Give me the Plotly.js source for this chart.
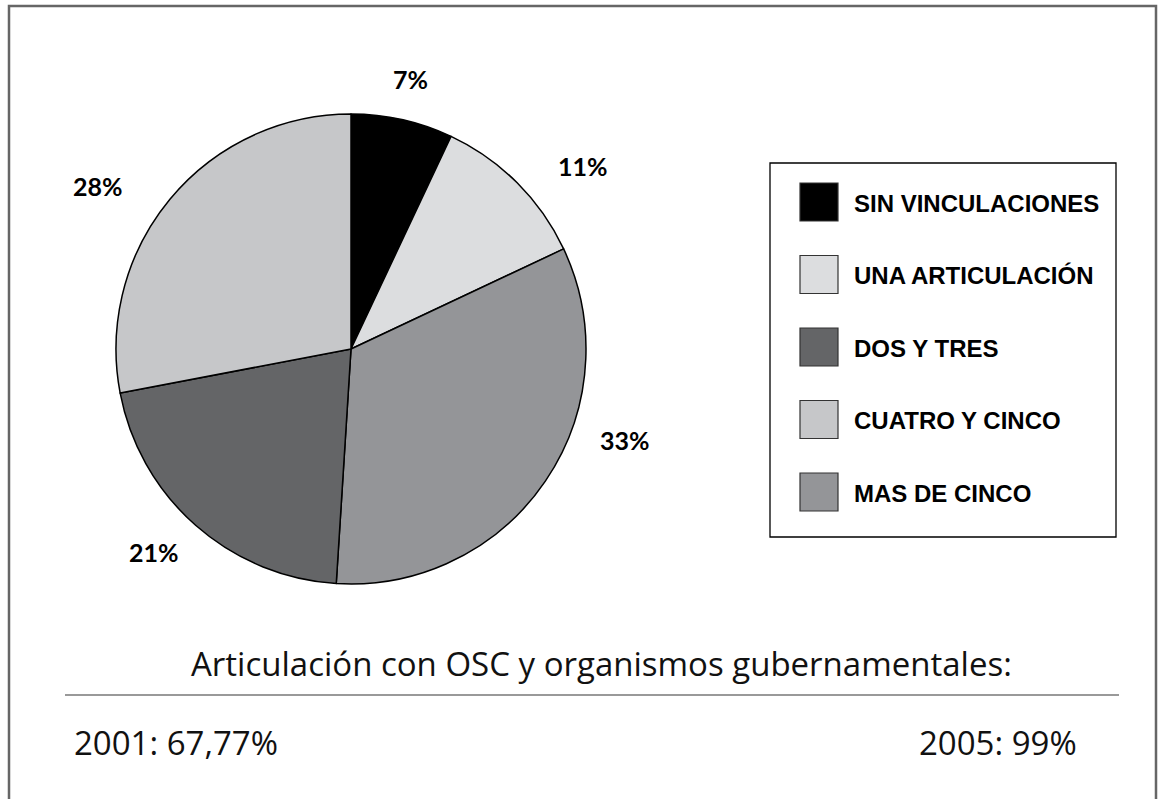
<!DOCTYPE html>
<html>
<head>
<meta charset="utf-8">
<script src="https://cdn.plot.ly/plotly-3.0.1.min.js"></script>
<style>html,body{margin:0;padding:0;background:#fff}#chart{width:1158px;height:799px}</style>
</head>
<body>
<div id="chart"></div>
<script>
// ---- data (legend order) ----
const categories = ["SIN VINCULACIONES", "UNA ARTICULACIÓN", "DOS Y TRES", "CUATRO Y CINCO", "MAS DE CINCO"];
const values = [7, 11, 21, 28, 33];
const colors = ["#000000", "#dcdddf", "#646567", "#c6c7c9", "#949598"];
const sliceOrder = [0, 1, 4, 2, 3]; // clockwise from 12 o'clock
const subtitle = "Articulación con OSC y organismos gubernamentales:";
const yearLabels = ["2001: 67,77%", "2005: 99%"];

const sliceLabels = sliceOrder.map(i => categories[i]);
const sliceValues = sliceOrder.map(i => values[i]);
const sliceColors = sliceOrder.map(i => colors[i]);

// ---- layout helpers (pixel -> paper) ----
const W = 1158, H = 799;
const px = x => x / W;
const py = y => 1 - y / H;

const labelPos = [[410, 79], [583, 166], [625, 440], [154, 552], [98, 186]];

const annotations = [];
const shapes = [];

sliceValues.forEach((v, i) => {
  annotations.push({
    xref: "paper", yref: "paper", x: px(labelPos[i][0]), y: py(labelPos[i][1]),
    text: "<b>" + v + "%</b>", showarrow: false, xanchor: "center", yanchor: "middle",
    font: {family: "Lato, 'Open Sans', sans-serif", size: 25, color: "#000"}
  });
});

// legend box
shapes.push({type: "rect", xref: "paper", yref: "paper",
  x0: px(770), x1: px(1116), y0: py(537), y1: py(163),
  line: {color: "#000", width: 1.3}, fillcolor: "rgba(0,0,0,0)"});
categories.forEach((name, i) => {
  const cy = 202 + i * 72.5;
  shapes.push({type: "rect", xref: "paper", yref: "paper",
    x0: px(800), x1: px(838), y0: py(cy + 19), y1: py(cy - 19),
    line: {color: "#333", width: 1.2}, fillcolor: colors[i]});
  annotations.push({xref: "paper", yref: "paper", x: px(852), y: py(cy + 1),
    text: "<b>" + name + "</b>", showarrow: false, xanchor: "left", yanchor: "middle",
    font: {family: "'Liberation Sans Narrow', 'Arial Narrow', 'Liberation Sans', sans-serif", size: 24, color: "#000"}});
});

// outer frame (left, top, right)
shapes.push({type: "path", xref: "paper", yref: "paper",
  path: `M ${px(9)} 0 L ${px(9)} ${py(6)} L ${px(1156)} ${py(6)} L ${px(1156)} 0`,
  line: {color: "#666", width: 2.5}});

// subtitle + rule + years
const txtFont = {family: "'Open Sans', sans-serif", size: 33, color: "#111"};
annotations.push({xref: "paper", yref: "paper", x: px(601), y: py(663), text: subtitle,
  showarrow: false, xanchor: "center", yanchor: "middle", font: txtFont});
shapes.push({type: "line", xref: "paper", yref: "paper", x0: px(65), x1: px(1119), y0: py(695), y1: py(695),
  line: {color: "#777", width: 1.5}});
annotations.push({xref: "paper", yref: "paper", x: px(72), y: py(742), text: yearLabels[0],
  showarrow: false, xanchor: "left", yanchor: "middle", font: txtFont});
annotations.push({xref: "paper", yref: "paper", x: px(1079), y: py(742), text: yearLabels[1],
  showarrow: false, xanchor: "right", yanchor: "middle", font: txtFont});

const trace = {
  type: "pie",
  labels: sliceLabels,
  values: sliceValues,
  sort: false,
  direction: "clockwise",
  rotation: 0,
  textinfo: "none",
  hoverinfo: "label+percent",
  marker: {colors: sliceColors, line: {color: "#000", width: 1.5}},
  domain: {x: [px(116), px(586)], y: [py(585), py(113)]},
  showlegend: false
};

Plotly.newPlot("chart", [trace], {
  width: W, height: H,
  margin: {l: 0, r: 0, t: 0, b: 0},
  paper_bgcolor: "#fff",
  showlegend: false,
  annotations: annotations,
  shapes: shapes
}, {displayModeBar: false, staticPlot: true});
</script>
</body>
</html>
